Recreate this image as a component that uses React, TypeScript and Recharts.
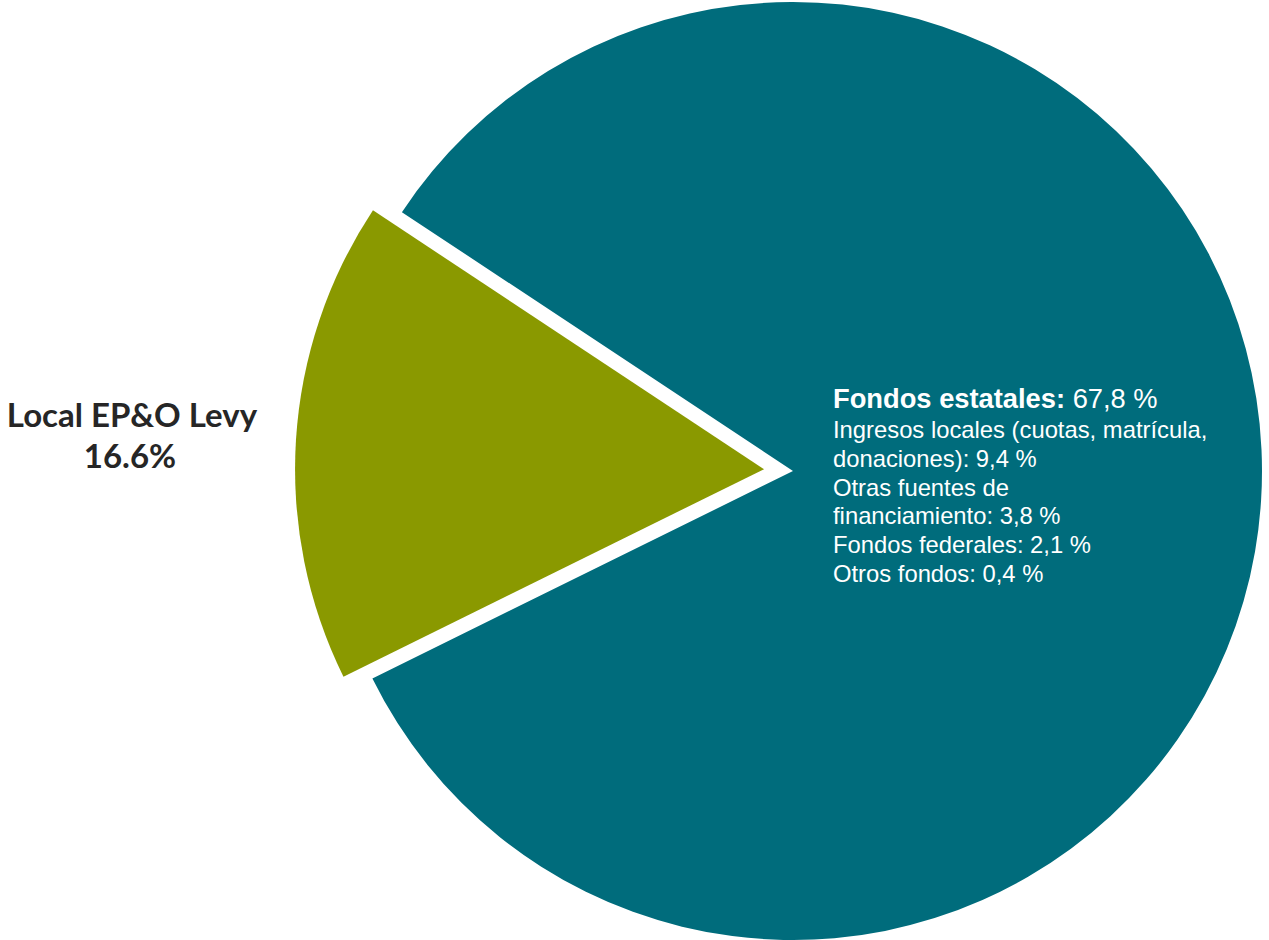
import React from 'react';
import { PieChart, Pie, Cell } from 'recharts';

const categories = ['Local EP&O Levy', 'Fondos estatales y otros'];
const values = [16.6, 83.4];
const colors = ['#8A9900', '#006C7C'];
const levyLabel = ['Local EP&O Levy', '16.6%'];
const stateTitle = 'Fondos estatales:';
const stateValue = ' 67,8 %';
const stateLines = [
  'Ingresos locales (cuotas, matrícula,',
  'donaciones): 9,4 %',
  'Otras fuentes de',
  'financiamiento: 3,8 %',
  'Fondos federales: 2,1 %',
  'Otros fondos: 0,4 %',
];

const data = categories.map((name, i) => ({ name, value: values[i] }));

const W = 1269;
const H = 940;
const CX = 793;
const CY = 471;
const R = 469;
const START = 146.5;
const EXPLODE = 29;

const total = values.reduce((a, b) => a + b, 0);
const midAngle = START + (360 * values[0]) / total / 2;
const gcx = CX + EXPLODE * Math.cos((midAngle * Math.PI) / 180);
const gcy = CY - EXPLODE * Math.sin((midAngle * Math.PI) / 180);

const levyStyle: React.CSSProperties = {
  fontFamily: "Lato, 'Open Sans', sans-serif",
  fontWeight: 700,
  fontSize: 33,
  fill: '#262626',
};
const arial = "'Liberation Sans', Arial, sans-serif";

const renderLevyLabel = (props: any) => {
  if (props.index !== 0) return null;
  return (
    <g key="levy">
      <text x={132} y={427} textAnchor="middle" style={levyStyle}>
        {levyLabel[0]}
      </text>
      <text x={130} y={468} textAnchor="middle" style={levyStyle}>
        {levyLabel[1]}
      </text>
    </g>
  );
};

const renderStateLabel = (props: any) => {
  if (props.index !== 1) return null;
  const x = 833;
  return (
    <g key="state">
      <text x={x} y={407.5} style={{ fontFamily: arial, fontSize: 27.3, fill: '#ffffff' }}>
        <tspan style={{ fontWeight: 700 }}>{stateTitle}</tspan>
        <tspan>{stateValue}</tspan>
      </text>
      {stateLines.map((l, i) => (
        <text key={i} x={x} y={438 + i * 28.75} style={{ fontFamily: arial, fontSize: 23.8, fill: '#ffffff' }}>
          {l}
        </text>
      ))}
    </g>
  );
};

export default function App() {
  return (
    <div style={{ width: W, height: H, background: '#fff' }}>
      <style>{`body{margin:0}`}</style>
      <PieChart width={W} height={H} margin={{ top: 0, right: 0, bottom: 0, left: 0 }}>
        <Pie
          data={data}
          dataKey="value"
          nameKey="name"
          cx={CX}
          cy={CY}
          outerRadius={R}
          startAngle={START}
          endAngle={START + 360}
          isAnimationActive={false}
          stroke="none"
          labelLine={false}
          label={renderStateLabel}
        >
          {data.map((d, i) => (
            <Cell key={d.name} fill={i === 1 ? colors[1] : 'transparent'} stroke="none" />
          ))}
        </Pie>
        <Pie
          data={data}
          dataKey="value"
          nameKey="name"
          cx={gcx}
          cy={gcy}
          outerRadius={R}
          startAngle={START}
          endAngle={START + 360}
          isAnimationActive={false}
          stroke="none"
          labelLine={false}
          label={renderLevyLabel}
        >
          {data.map((d, i) => (
            <Cell key={d.name} fill={i === 0 ? colors[0] : 'transparent'} stroke="none" />
          ))}
        </Pie>
      </PieChart>
    </div>
  );
}
